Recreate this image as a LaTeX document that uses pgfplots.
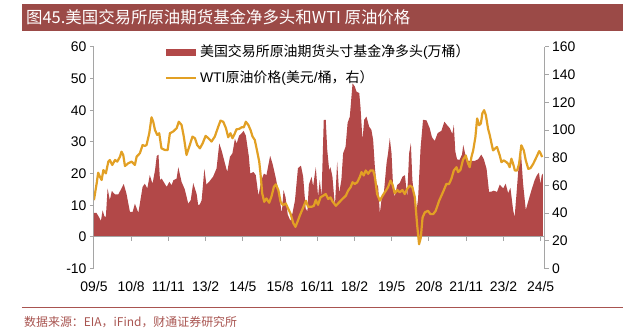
\documentclass[border=0pt]{standalone}
\usepackage{pgfplots}
\pgfplotsset{compat=1.18}
\usepackage{fontspec}
\setmainfont{Liberation Sans}
\newfontfamily\cjk{Noto Sans CJK SC}
\definecolor{areacol}{RGB}{178,72,72}
\definecolor{linecol}{RGB}{226,160,36}
\definecolor{barcol}{RGB}{155,74,71}
\definecolor{axgray}{RGB}{165,165,165}
\definecolor{srccol}{RGB}{168,84,80}

\pgfplotstableread{
m v
0 0
0 7.6
1.0 7.6
2.0 6.3
2.8 5.0
3.5 8.4
4.2 6.5
4.8 6.3
5.5 15.3
6.4 11.6
7.2 14.5
8.5 13.4
9.8 13.4
11.1 15.3
12.0 16.7
13.1 13.7
14.5 7.9
15.6 7.9
16.5 10.5
17.9 7.6
19.6 15.8
20.5 16.8
21.5 15.3
22.5 19.5
23.6 16.8
24.6 21.0
25.3 25.5
26.0 26.0
26.6 18.0
27.3 18.4
29.3 15.8
30.4 17.4
31.3 16.3
32.0 17.9
33.3 18.4
34.0 22.0
35.3 17.4
36.6 15.0
38.0 10.5
39.0 11.6
40.0 17.0
41.4 13.5
42.0 10.0
42.7 10.3
43.4 11.6
44.5 21.5
45.3 16.5
46.4 17.4
48.0 19.0
49.4 21.6
50.5 29.5
51.4 27.4
52.8 23.2
53.7 20.5
54.8 25.3
55.8 26.4
56.8 31.0
57.5 29.5
58.5 32.0
59.5 32.7
60.3 33.5
61.2 32.0
62.4 25.5
63.0 20.0
64.3 20.5
65.2 19.5
66.3 13.0
67.5 18.0
68.5 20.0
69.5 19.5
71.0 25.6
72.0 23.0
73.3 18.5
74.3 14.5
75.7 7.5
76.4 14.8
77.2 12.5
78.1 7.0
79.2 5.0
80.0 7.5
81.0 11.5
82.2 21.7
83.4 22.5
84.3 19.0
85.3 9.0
86.0 8.0
86.6 16.5
87.7 19.0
88.3 16.0
89.4 22.0
90.3 12.7
91.0 18.0
91.7 12.7
92.6 37.0
93.4 37.0
94.0 27.5
94.8 21.0
95.3 22.0
96.1 19.0
97.1 9.6
98.0 23.8
98.8 13.8
99.7 18.0
100.4 26.4
101.4 28.5
102.2 36.0
103.1 38.0
104.2 48.5
105.1 47.5
105.8 45.9
106.9 45.4
107.4 41.0
108.2 30.6
108.9 37.0
109.8 38.0
110.9 34.8
111.8 33.8
112.5 30.6
113.2 22.0
113.8 17.0
114.5 15.9
115.2 7.5
116.0 12.7
116.8 13.8
117.9 23.3
118.5 26.4
119.2 31.2
119.9 26.4
120.6 14.8
121.2 12.7
122.2 16.4
123.2 17.0
124.3 19.0
125.3 19.5
126.2 12.7
127.0 26.4
127.7 29.6
128.3 18.0
129.3 11.0
130.0 8.5
130.6 12.0
131.6 28.0
132.6 37.0
134.0 36.8
135.3 34.3
136.2 31.5
137.3 30.3
138.5 32.8
140.0 33.5
141.2 36.4
142.2 35.4
143.4 34.3
144.4 32.5
145.0 35.4
145.6 27.0
146.3 24.5
147.3 24.3
148.3 26.0
148.8 29.0
149.8 25.5
150.8 24.0
152.1 24.0
153.4 24.0
154.8 24.5
156.1 26.0
157.1 24.5
158.2 21.5
159.2 14.2
160.2 14.3
161.1 14.6
162.4 14.2
163.5 16.5
164.9 15.3
165.9 16.8
166.9 13.8
167.8 15.5
168.9 8.5
169.5 6.2
170.3 14.0
171.3 24.3
171.9 28.5
172.9 16.9
174.0 8.5
174.9 11.0
176.3 14.8
177.6 18.0
178.5 19.5
179.3 20.3
179.9 16.7
180.4 19.4
180.9 20.0
180.9 0
}\netlong

\pgfplotstableread{
m p
0 49.4
1.1 61.5
1.7 69.2
2.4 66.3
3.1 63.9
3.8 71.1
4.8 68.7
5.8 77.2
6.4 78.4
7.4 74.8
8.5 78.4
9.4 77.2
10.5 80.8
11.1 84.4
11.8 82.0
12.5 74.0
13.8 76.0
15.2 77.2
16.5 74.8
17.2 80.8
18.5 83.2
19.6 89.2
20.5 88.5
21.2 89.2
22.3 97.7
23.2 109.2
23.9 106.0
24.6 100.0
25.5 96.5
26.3 97.7
27.2 86.8
28.6 85.6
29.7 85.6
30.6 97.7
31.9 98.9
33.3 101.3
34.2 106.0
35.3 103.7
36.2 95.3
37.3 82.0
38.4 88.0
39.7 95.3
40.7 94.1
41.6 89.2
42.7 86.8
43.8 90.4
45.0 95.8
46.1 94.1
47.4 91.7
48.7 95.3
50.1 102.5
51.0 106.8
52.1 106.0
53.2 101.3
54.1 94.8
55.0 97.7
55.8 94.1
56.8 97.7
57.4 100.5
58.5 100.8
59.5 102.0
60.4 102.0
61.2 106.0
62.2 103.7
63.1 100.0
63.9 95.3
64.8 92.9
65.8 84.4
66.6 77.2
67.1 68.7
67.8 54.3
68.6 48.2
69.5 50.6
70.6 47.5
71.5 51.8
72.5 59.0
73.3 60.8
74.3 56.6
75.2 48.2
76.2 45.8
77.3 47.0
78.2 43.4
79.2 39.7
80.3 32.9
81.2 30.1
82.0 33.7
83.0 38.5
84.3 44.0
85.4 49.0
86.3 44.6
87.7 44.6
88.6 45.3
89.4 49.5
90.3 46.0
91.3 51.4
92.4 52.6
93.4 53.8
94.4 50.2
95.3 51.4
96.1 48.5
97.5 45.3
98.8 47.8
100.1 50.2
101.5 52.6
102.4 56.2
103.4 58.7
104.2 62.3
105.1 61.1
106.1 62.3
107.1 66.0
107.8 69.6
108.7 67.2
109.5 70.8
110.5 68.4
111.4 70.8
112.5 70.8
113.2 66.0
114.1 53.8
115.2 49.0
116.3 52.6
117.6 56.2
118.5 58.7
119.5 63.5
120.3 60.6
121.2 54.3
122.2 56.7
123.2 55.0
124.3 56.7
125.2 53.8
126.2 57.5
127.3 59.9
128.3 58.7
129.3 51.4
130.2 32.0
131.0 17.5
131.7 22.3
132.4 36.8
133.3 40.5
134.6 41.7
135.6 39.3
136.7 39.3
137.7 41.7
139.1 49.0
140.0 52.6
141.0 56.7
142.0 61.1
143.1 61.1
144.0 64.7
145.0 70.8
146.1 73.2
146.7 69.6
147.7 71.3
148.7 78.5
149.8 81.7
150.8 75.6
151.4 73.2
152.1 80.5
152.8 85.3
153.7 95.0
154.4 108.4
155.2 103.5
155.9 104.7
156.5 112.0
157.2 114.4
157.9 110.8
158.8 101.0
159.5 96.2
160.2 90.2
160.8 85.3
161.5 86.5
162.4 87.8
163.5 81.7
164.2 76.8
165.1 78.1
166.2 76.8
166.9 75.6
167.5 73.2
168.2 79.3
168.9 75.6
169.6 70.8
170.5 70.8
171.3 75.6
172.2 89.0
173.2 85.3
174.0 78.1
175.0 72.0
175.9 72.5
177.0 75.6
178.3 80.5
179.4 84.8
179.9 83.4
180.6 80.5
}\wti

\begin{document}
\begin{tikzpicture}
\path (0bp,0bp) rectangle (623bp,330bp);
\fill[barcol] (22bp,299bp) rectangle (623bp,326bp);
\node[anchor=west, text=white, font=\cjk\fontsize{16.5}{16.5}\selectfont, inner sep=0] at (26bp,312.5bp) {图45.美国交易所原油期货基金净多头和WTI 原油价格};

\begin{axis}[
  at={(94bp,61.3bp)}, anchor=south west,
  width=451bp, height=221.7bp, scale only axis,
  xmin=0, xmax=181.6, ymin=-10, ymax=60,
  axis x line*=bottom, axis y line*=left,
  axis line style={-},
  x axis line style={draw=none},
  xtick={0,15,30,45,60,75,90,105,120,135,150,165,180},
  xticklabels={09/5,10/8,11/11,13/2,14/5,15/8,16/11,18/2,19/5,20/8,21/11,23/2,24/5},
  major x tick style={draw=none},
  xticklabel style={yshift=-5bp},
  ytick={-10,0,10,20,30,40,50,60},
  tick align=outside,
  major tick length=4bp,
  y axis line style={axgray, line width=1bp},
  major y tick style={axgray, line width=1bp},
  tick label style={font=\fontsize{14}{14}\selectfont},
  /pgf/number format/assume math mode=true,
]
\addplot[fill=areacol, draw=none] table[x=m, y=v] {\netlong} -- cycle;
\draw[axgray, line width=1bp] (axis cs:0,0) -- (axis cs:181.6,0);
\pgfplotsinvokeforeach{0,15,30,45,60,75,90,105,120,135,150,165,180}{
  \draw[axgray, line width=1bp] (axis cs:#1,0) -- ++(0bp,-4bp);
}
\end{axis}

\begin{axis}[
  at={(94bp,61.3bp)}, anchor=south west,
  width=451bp, height=221.7bp, scale only axis,
  xmin=0, xmax=181.6, ymin=0, ymax=160,
  axis x line=none, axis y line*=right,
  axis line style={-},
  ytick={0,20,40,60,80,100,120,140,160},
  tick align=outside,
  major tick length=4bp,
  y axis line style={axgray, line width=1bp},
  major y tick style={axgray, line width=1bp},
  tick label style={font=\fontsize{14}{14}\selectfont},
  /pgf/number format/assume math mode=true,
]
\addplot[linecol, line width=2.2bp, line join=round, no marks] table[x=m, y=p] {\wti};
\end{axis}

\fill[areacol] (166bp,274bp) rectangle (196bp,281bp);
\node[anchor=west, inner sep=0, font=\fontsize{14}{14}\selectfont] at (200bp,277.5bp) {{\cjk 美国交易所原油期货头寸基金净多头}({\cjk 万桶）}};
\draw[linecol, line width=2.2bp] (166bp,252.3bp) -- (196bp,252.3bp);
\node[anchor=west, inner sep=0, font=\fontsize{14}{14}\selectfont] at (200bp,252.3bp) {WTI{\cjk 原油价格}({\cjk 美元}/{\cjk 桶，右）}};

\draw[srccol, line width=0.8bp] (22bp,22bp) -- (623bp,22bp);
\node[anchor=west, inner sep=0, text=srccol, font=\cjk\fontsize{12}{12}\selectfont] at (24bp,7.5bp) {数据来源：EIA，iFind，财通证券研究所};
\end{tikzpicture}
\end{document}
